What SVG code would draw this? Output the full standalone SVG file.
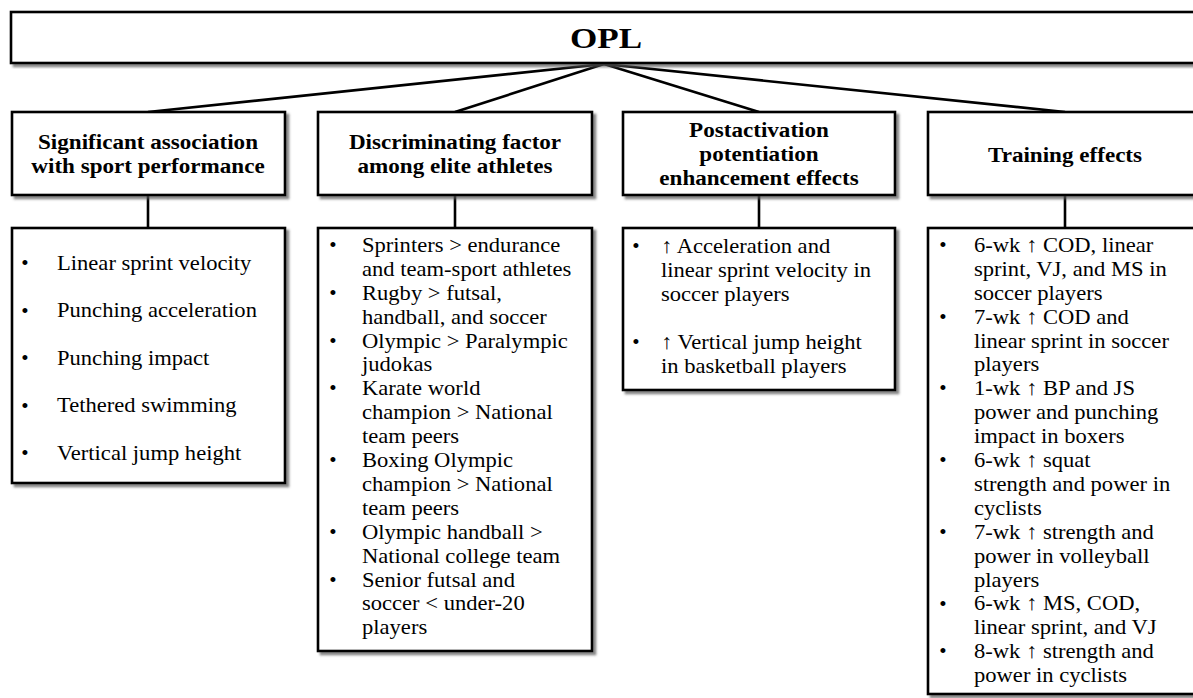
<svg xmlns="http://www.w3.org/2000/svg" width="1193" height="698" viewBox="0 0 1193 698">
<style>
  .box { fill: #ffffff; stroke: #000000; stroke-width: 2.6; filter: url(#sh); }
  .conn { stroke: #000000; stroke-width: 2.6; fill: none; }
  .hd { font-family: "Liberation Serif", "Times New Roman", serif; font-weight: bold; font-size: 21px; fill: #000; text-anchor: middle; }
  .title { font-family: "Liberation Serif", "Times New Roman", serif; font-weight: bold; font-size: 30px; fill: #000; text-anchor: middle; }
  .bd { font-family: "Liberation Serif", "Times New Roman", serif; font-size: 21px; fill: #000; }
  .bl { font-family: "Liberation Serif", "Times New Roman", serif; font-size: 21px; fill: #000; text-anchor: middle; }
</style>
<defs>
  <filter id="sh" x="-5%" y="-5%" width="115%" height="115%">
    <feDropShadow dx="3" dy="3" stdDeviation="1.2" flood-color="#555" flood-opacity="0.7"/>
  </filter>
</defs>
<rect width="1193" height="698" fill="#ffffff"/>

<g id="connectors">
  <line class="conn" x1="604" y1="64" x2="148" y2="112"/>
  <line class="conn" x1="604" y1="64" x2="455" y2="112"/>
  <line class="conn" x1="604" y1="64" x2="759" y2="112"/>
  <line class="conn" x1="604" y1="64" x2="1065" y2="112"/>
  <line class="conn" x1="148" y1="195" x2="148" y2="228"/>
  <line class="conn" x1="455" y1="195" x2="455" y2="228"/>
  <line class="conn" x1="759" y1="195" x2="759" y2="228"/>
  <line class="conn" x1="1065" y1="195" x2="1065" y2="228"/>
</g>

<g id="opl">
  <rect class="box" x="11" y="12" width="1195" height="51"/>
  <text class="title" transform="translate(606,48) scale(1.17,1)" x="0" y="0">OPL</text>
</g>

<g id="head-association">
  <rect class="box" x="12" y="112" width="273" height="83"/>
  <g transform="translate(148,0) scale(1.1,1)">
    <text class="hd" x="0" y="149">Significant association</text>
    <text class="hd" x="0" y="173">with sport performance</text>
  </g>
</g>

<g id="head-discriminating">
  <rect class="box" x="318" y="112" width="274" height="83"/>
  <g transform="translate(455,0) scale(1.1,1)">
    <text class="hd" x="0" y="149">Discriminating factor</text>
    <text class="hd" x="0" y="173">among elite athletes</text>
  </g>
</g>

<g id="head-pape">
  <rect class="box" x="623" y="112" width="272" height="83"/>
  <g transform="translate(759,0) scale(1.1,1)">
    <text class="hd" x="0" y="137">Postactivation</text>
    <text class="hd" x="0" y="161">potentiation</text>
    <text class="hd" x="0" y="185">enhancement effects</text>
  </g>
</g>

<g id="head-training">
  <rect class="box" x="928" y="112" width="280" height="83"/>
  <g transform="translate(1065,0) scale(1.1,1)">
    <text class="hd" x="0" y="162">Training effects</text>
  </g>
</g>

<g id="list-association">
  <rect class="box" x="12" y="228" width="273" height="255"/>
  <text class="bl" x="25" y="270">•</text>
  <text class="bl" x="25" y="317.5">•</text>
  <text class="bl" x="25" y="365">•</text>
  <text class="bl" x="25" y="412.5">•</text>
  <text class="bl" x="25" y="460">•</text>
  <g transform="translate(57,0) scale(1.075,1)">
    <text class="bd" x="0" y="270">Linear sprint velocity</text>
    <text class="bd" x="0" y="317.5">Punching acceleration</text>
    <text class="bd" x="0" y="365">Punching impact</text>
    <text class="bd" x="0" y="412.5">Tethered swimming</text>
    <text class="bd" x="0" y="460">Vertical jump height</text>
  </g>
</g>

<g id="list-discriminating">
  <rect class="box" x="318" y="228" width="274" height="423"/>
  <text class="bl" x="333" y="252">•</text>
  <text class="bl" x="333" y="299.8">•</text>
  <text class="bl" x="333" y="347.6">•</text>
  <text class="bl" x="333" y="395.4">•</text>
  <text class="bl" x="333" y="467.1">•</text>
  <text class="bl" x="333" y="538.8">•</text>
  <text class="bl" x="333" y="586.6">•</text>
  <g transform="translate(362,0) scale(1.075,1)">
    <text class="bd" x="0" y="252">Sprinters &gt; endurance</text>
    <text class="bd" x="0" y="275.9">and team-sport athletes</text>
    <text class="bd" x="0" y="299.8">Rugby &gt; futsal,</text>
    <text class="bd" x="0" y="323.7">handball, and soccer</text>
    <text class="bd" x="0" y="347.6">Olympic &gt; Paralympic</text>
    <text class="bd" x="0" y="371.5">judokas</text>
    <text class="bd" x="0" y="395.4">Karate world</text>
    <text class="bd" x="0" y="419.3">champion &gt; National</text>
    <text class="bd" x="0" y="443.2">team peers</text>
    <text class="bd" x="0" y="467.1">Boxing Olympic</text>
    <text class="bd" x="0" y="491">champion &gt; National</text>
    <text class="bd" x="0" y="514.9">team peers</text>
    <text class="bd" x="0" y="538.8">Olympic handball &gt;</text>
    <text class="bd" x="0" y="562.7">National college team</text>
    <text class="bd" x="0" y="586.6">Senior futsal and</text>
    <text class="bd" x="0" y="610.5">soccer &lt; under-20</text>
    <text class="bd" x="0" y="634.4">players</text>
  </g>
</g>

<g id="list-pape">
  <rect class="box" x="623" y="228" width="272" height="162"/>
  <text class="bl" x="636" y="253">•</text>
  <text class="bl" x="636" y="349">•</text>
  <g transform="translate(661,0) scale(1.075,1)">
    <text class="bd" x="0" y="253">↑ Acceleration and</text>
    <text class="bd" x="0" y="277">linear sprint velocity in</text>
    <text class="bd" x="0" y="301">soccer players</text>
    <text class="bd" x="0" y="349">↑ Vertical jump height</text>
    <text class="bd" x="0" y="373">in basketball players</text>
  </g>
</g>

<g id="list-training">
  <rect class="box" x="928" y="228" width="280" height="466"/>
  <text class="bl" x="943" y="252">•</text>
  <text class="bl" x="943" y="323.7">•</text>
  <text class="bl" x="943" y="395.4">•</text>
  <text class="bl" x="943" y="467.1">•</text>
  <text class="bl" x="943" y="538.8">•</text>
  <text class="bl" x="943" y="610.5">•</text>
  <text class="bl" x="943" y="658.3">•</text>
  <g transform="translate(974,0) scale(1.075,1)">
    <text class="bd" x="0" y="252">6-wk ↑ COD, linear</text>
    <text class="bd" x="0" y="275.9">sprint, VJ, and MS in</text>
    <text class="bd" x="0" y="299.8">soccer players</text>
    <text class="bd" x="0" y="323.7">7-wk ↑ COD and</text>
    <text class="bd" x="0" y="347.6">linear sprint in soccer</text>
    <text class="bd" x="0" y="371.5">players</text>
    <text class="bd" x="0" y="395.4">1-wk ↑ BP and JS</text>
    <text class="bd" x="0" y="419.3">power and punching</text>
    <text class="bd" x="0" y="443.2">impact in boxers</text>
    <text class="bd" x="0" y="467.1">6-wk ↑ squat</text>
    <text class="bd" x="0" y="491">strength and power in</text>
    <text class="bd" x="0" y="514.9">cyclists</text>
    <text class="bd" x="0" y="538.8">7-wk ↑ strength and</text>
    <text class="bd" x="0" y="562.7">power in volleyball</text>
    <text class="bd" x="0" y="586.6">players</text>
    <text class="bd" x="0" y="610.5">6-wk ↑ MS, COD,</text>
    <text class="bd" x="0" y="634.4">linear sprint, and VJ</text>
    <text class="bd" x="0" y="658.3">8-wk ↑ strength and</text>
    <text class="bd" x="0" y="682.2">power in cyclists</text>
  </g>
</g>
</svg>
